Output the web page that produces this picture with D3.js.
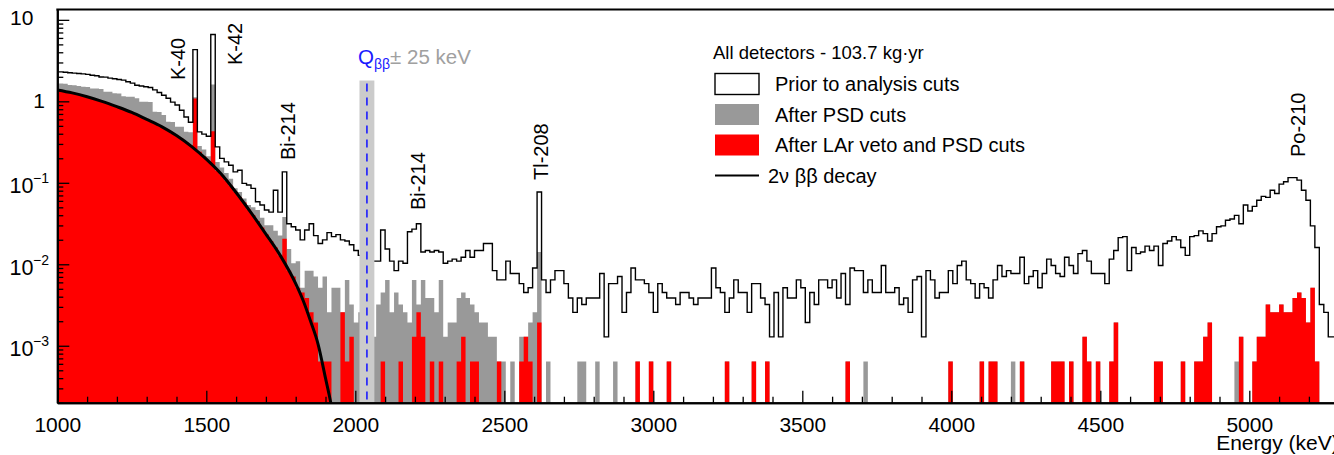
<!DOCTYPE html>
<html><head><meta charset="utf-8">
<script src="https://cdn.jsdelivr.net/npm/d3@7"></script>
<style>
body{margin:0;background:#fff}
svg{display:block;font-family:"Liberation Sans",Arial,Helvetica,sans-serif}
</style>
</head><body>
<svg id="chart" width="1334" height="455"></svg>
<script>
// ---------------- DATA ----------------
// 15 keV bins, first bin starts at 990 keV; counts per bin
const binStart = 990;
const binWidth = 15;          // keV
const exposure = 103.7;       // kg*yr

const priorCounts = [
3580,3575,3540,3490,3450,3420,3380,3330,3250,3200,3100,3080,3000,2950,2880,2830,2700,2600,2450,2400,
2350,2300,2150,2000,1850,1700,1520,1400,1210,1000,860,6700,656,615,581,10280,430,310,281,256,
212,222,153,146,133,91,83,72,68,126,68,212,49,45,41,31,41,49,35,28,
31,38,34,36,31,30,27,23,20,18,17,17,17,41,24,17,13,17,16,39,
42,49,22,23,22,23,22,16,17,18,17,19,23,19,23,23,28,28,13,10,
10,17,12,12,9,7,8,14,120,10,7,10,13,13,9,6,4,6,5,6,
6,6,12,2,9,9,11,4,7,14,10,10,9,7,4,9,7,6,6,5,
7,7,6,5,6,6,6,14,8,7,4,6,10,7,7,4,9,9,6,5,
2,7,2,8,6,6,10,8,3,7,5,10,10,8,10,6,12,5,14,13,
13,7,10,7,7,15,7,7,8,5,6,4,10,11,2,13,10,6,7,7,
13,9,15,17,10,9,6,9,8,6,10,15,11,13,12,12,19,9,11,13,
8,12,18,15,12,11,19,15,12,21,23,17,12,12,12,9,18,23,33,34,
13,25,21,22,26,23,26,15,28,30,34,31,25,20,34,35,40,37,30,37,
45,46,54,56,62,49,83,70,80,95,106,103,126,115,150,160,180,180,168,126,
95,46,25,5,4,2,2,1];

const psdCounts = [
2580,2580,2550,2460,2450,2400,2345,2330,2240,2230,2200,2040,2040,1950,1940,1800,1770,1770,1700,1540,
1540,1530,1160,1150,1055,873,870,760,760,660,650,1750,440,400,330,2500,280,240,205,175,
133,120,100,83,78,72,58,47,47,40,35,59,24,16,17,8,13,13,11,8,
11,4,8,8,4,10,5,3,4,3,5,2,5,7,10,4,7,5,4,3,
10,5,10,6,6,4,10,2,3,3,6,7,6,5,4,3,3,2,2,1,
1,0,1,0,2,2,3,4,22,0,1,0,0,0,0,0,0,1,1,0,
0,1,0,0,0,1,0,0,0,0,1,0,0,1,0,0,0,1,0,0,
0,0,0,0,0,0,0,0,0,0,1,0,0,0,0,0,1,0,0,1,
0,0,0,0,0,0,0,0,0,0,0,0,0,0,0,0,0,1,0,0,
0,1,0,0,0,0,0,0,0,0,0,0,0,0,0,0,0,0,0,0,
1,0,0,0,0,0,0,1,0,1,1,0,0,0,1,0,1,0,0,0,
0,0,0,1,1,1,0,1,0,0,2,1,0,1,0,0,1,3,0,0,
0,0,0,0,0,0,1,1,0,0,0,0,1,0,0,1,1,2,3,0,
0,0,0,0,1,2,0,0,1,2,2,5,4,4,5,4,4,6,7,6,
3,8,1,0,0,0,0,0];

const larCounts = [
2150,2100,2060,2000,1960,1900,1840,1770,1700,1630,1570,1500,1420,1350,1310,1250,1180,1120,1060,1000,
940,890,830,780,730,680,620,585,540,490,450,1690,373,327,288,670,218,194,166,143,
121,104,89,73,62,53,44,36,30,25,20,32,13,11,8,7,6,4,3,1,
1,1,0,0,4,1,2,0,0,0,0,0,0,1,0,0,0,1,0,0,
2,4,2,0,1,0,1,0,0,0,1,2,0,1,1,0,0,0,0,1,
0,0,0,0,1,2,1,0,3,0,0,0,0,0,0,0,0,0,0,0,
0,0,0,0,0,0,0,0,0,0,1,0,0,1,0,0,0,1,0,0,
0,0,0,0,0,0,0,0,0,0,1,0,0,0,0,0,1,0,0,1,
0,0,0,0,0,0,0,0,0,0,0,0,0,0,0,0,0,1,0,0,
0,0,0,0,0,0,0,0,0,0,0,0,0,0,0,0,0,0,0,0,
1,0,0,0,0,0,0,1,0,1,1,0,0,0,0,0,1,0,0,0,
0,0,0,1,1,1,0,1,0,0,2,1,0,1,0,0,1,3,0,0,
0,0,0,0,0,0,1,1,0,0,0,0,1,0,0,1,1,2,3,0,
0,0,0,0,0,2,0,0,1,2,2,5,4,4,5,4,4,6,7,6,
3,8,1,0,0,0,0,0];

// 2vbb model curve, counts/(keV kg yr)
const twoNuEnergy = [1000,1050,1100,1150,1200,1250,1300,1350,1400,1450,1500,1550,1600,1650,1700,1750,1800,1825,1850,1875,1900,1920,1940];
const twoNuRate   = [1.38,1.27,1.14,1.00,0.86,0.73,0.60,0.49,0.38,0.28,0.195,0.128,0.076,0.043,0.0235,0.0125,0.0058,0.0036,0.0020,0.00105,0.00040,0.00018,0.00006];

const xMajorTicks = [1000,1500,2000,2500,3000,3500,4000,4500,5000];
const yMajorTicks = [10,1,0.1,0.01,0.001];
const yTickExponents = [1,0,-1,-2,-3];

const peakNames = ["K-40","K-42","Bi-214","Bi-214","Tl-208","Po-210"];
const qbbEnergy = 2039, qbbWindow = 25;

const legendTitle = "All detectors - 103.7 kg\u00b7yr";
const legendLabels = ["Prior to analysis cuts","After PSD cuts","After LAr veto and PSD cuts","2\u03bd \u03b2\u03b2 decay"];

// ---------------- LAYOUT ----------------
const W = 1334, H = 455;
const plot = {left:57.3, right:1338.7, top:9.5, bottom:402.7};
const x = d3.scaleLinear().domain([1000,5300]).range([plot.left, plot.right]);
const y = d3.scaleLog().domain([2e-4,13.4]).range([plot.bottom, plot.top]);
const norm = binWidth*exposure;
const svg = d3.select("#chart");
svg.append("rect").attr("width",W).attr("height",H).attr("fill","#fff");

svg.append("defs").append("clipPath").attr("id","clip")
  .append("rect").attr("x",plot.left).attr("y",plot.top)
  .attr("width",plot.right-plot.left).attr("height",plot.bottom-plot.top);

const g = svg.append("g").attr("clip-path","url(#clip)");

const bins = priorCounts.map((c,i)=>({lo:binStart+i*binWidth, prior:c, psd:psdCounts[i], lar:larCounts[i]}));
const lastHi = binStart + bins.length*binWidth;
function stepPts(key){
  const p = bins.map(b=>({e:b.lo, c:b[key]}));
  p.push({e:lastHi, c:bins[bins.length-1][key]});
  return p;
}
const yBottom = plot.bottom + 2;
const yc = c => c>0 ? y(c/norm) : yBottom;
const area = d3.area().curve(d3.curveStepAfter).x(d=>x(d.e)).y0(yBottom).y1(d=>yc(d.c));
const line = d3.line().curve(d3.curveStepAfter).x(d=>x(d.e)).y(d=>yc(d.c));

g.append("path").attr("d",area(stepPts("psd"))).attr("fill","#999999");
g.append("path").attr("d",area(stepPts("lar"))).attr("fill","#ff0000");
g.append("path").attr("d",line(stepPts("prior"))).attr("fill","none").attr("stroke","#000").attr("stroke-width",1.4);

const curve = d3.line().curve(d3.curveMonotoneX).x((d,i)=>x(twoNuEnergy[i])).y(d=>y(d));
g.append("path").attr("d",curve(twoNuRate)).attr("fill","none").attr("stroke","#000").attr("stroke-width",3);

// Qbb window
g.append("rect").attr("x",x(qbbEnergy-qbbWindow)).attr("width",x(qbbEnergy+qbbWindow)-x(qbbEnergy-qbbWindow))
  .attr("y",y(1.8)).attr("height",plot.bottom-y(1.8)).attr("fill","#cbcbcb");
g.append("line").attr("x1",x(qbbEnergy)).attr("x2",x(qbbEnergy)).attr("y1",y(1.65)).attr("y2",plot.bottom)
  .attr("stroke","#1a1aff").attr("stroke-width",1.6).attr("stroke-dasharray","8,6");

// ---------------- AXES ----------------
const minorX = d3.range(1000,5301,100).filter(v=>v%500!==0);
const axB = svg.append("g").attr("transform",`translate(0,${plot.bottom})`);
axB.call(d3.axisBottom(x).tickValues(xMajorTicks).tickFormat(d3.format("d")).tickSizeInner(-12).tickSizeOuter(0).tickPadding(14));
axB.append("g").call(d3.axisBottom(x).tickValues(minorX).tickFormat("").tickSizeInner(-6).tickSizeOuter(0));
axB.selectAll("path.domain").attr("stroke","#000").attr("stroke-width",2);
axB.selectAll(".tick line").attr("stroke","#000").attr("stroke-width",1.3);
axB.selectAll("text").attr("font-size",21).attr("fill","#000").attr("font-family","Liberation Sans, Arial, sans-serif");

const minorY = [];
[-4,-3,-2,-1,0].forEach(d=>{ for(let k=2;k<=9;k++){ const v=k*Math.pow(10,d); if(v>=2e-4 && v<=13.4) minorY.push(v);} });
const axL = svg.append("g").attr("transform",`translate(${plot.left},0)`);
axL.call(d3.axisLeft(y).tickValues(yMajorTicks).tickFormat("").tickSizeInner(-12).tickSizeOuter(0));
axL.append("g").call(d3.axisLeft(y).tickValues(minorY).tickFormat("").tickSizeInner(-6).tickSizeOuter(0));
axL.selectAll("path.domain").attr("stroke","#000").attr("stroke-width",2);
axL.selectAll(".tick line").attr("stroke","#000").attr("stroke-width",1.3);

svg.append("line").attr("x1",plot.left-1).attr("x2",W+10).attr("y1",plot.top).attr("y2",plot.top)
  .attr("stroke","#000").attr("stroke-width",2);

// y labels
yMajorTicks.forEach((v,i)=>{
  const e = yTickExponents[i];
  const ty = y(v);
  if(e===0){
    svg.append("text").attr("x",45).attr("y",ty+7).attr("text-anchor","end").attr("font-size",21).text("1");
  } else if(e===1){
    svg.append("text").attr("x",10).attr("y",ty+5.5).attr("font-size",21).text("10");
  } else {
    svg.append("text").attr("x",9.5).attr("y",ty+10.5).attr("font-size",21.5).text("10");
    svg.append("text").attr("x",33).attr("y",ty+0.5).attr("font-size",14).text("\u2212"+(-e));
  }
});

svg.append("text").attr("x",x(5300)).attr("y",450).attr("text-anchor","end").attr("font-size",21).text("Energy (keV)");

// peak labels (rotated)
const peakLayout = [[185,80],[241.5,65],[295,160],[425,210],[548,180],[1305,157]];
peakNames.forEach((n,i)=>{
  svg.append("text").attr("transform",`translate(${peakLayout[i][0]},${peakLayout[i][1]}) rotate(-90)`)
    .attr("font-size",20).attr("fill","#000").text(n);
});

// Qbb label
const ql = svg.append("text").attr("x",358).attr("y",64).attr("font-size",20.5);
ql.append("tspan").attr("fill","#1a1aff").text("Q");
ql.append("tspan").attr("fill","#1a1aff").attr("font-size",14).attr("dy",5).text("\u03b2\u03b2");
ql.append("tspan").attr("fill","#a0a0a0").attr("dy",-5).text("\u00b1 25 keV");

// ---------------- LEGEND ----------------
const lg = svg.append("g");
lg.append("text").attr("x",713).attr("y",59).attr("font-size",18.5).text(legendTitle);
const rowY = [84,114.5,145,175.5];
lg.append("rect").attr("x",715).attr("y",rowY[0]-10.5).attr("width",44).attr("height",21).attr("fill","#fff").attr("stroke","#000").attr("stroke-width",1.4);
lg.append("rect").attr("x",715).attr("y",rowY[1]-10.5).attr("width",44).attr("height",21).attr("fill","#999999");
lg.append("rect").attr("x",715).attr("y",rowY[2]-10.5).attr("width",44).attr("height",21).attr("fill","#ff0000");
lg.append("line").attr("x1",715).attr("x2",759).attr("y1",rowY[3]).attr("y2",rowY[3]).attr("stroke","#000").attr("stroke-width",2);
legendLabels.forEach((t,i)=>{
  lg.append("text").attr("x",i<3?775:768).attr("y",rowY[i]+7).attr("font-size",20).text(t);
});
</script>
</body></html>
